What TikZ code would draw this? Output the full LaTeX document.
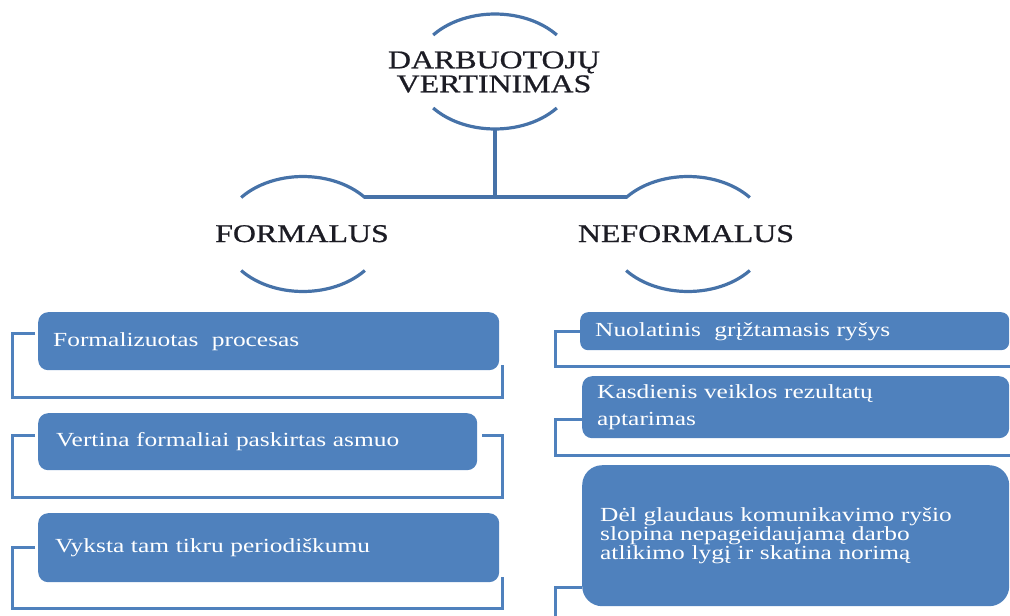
\documentclass[tikz,border=0pt]{standalone}
\usepackage{fontspec}
\setmainfont{Liberation Serif}[FakeStretch=1.27]
\newfontfamily\headfont{Liberation Serif}[FakeStretch=1.25, FakeBold=0.8]
\newcommand\widewords{\spaceskip=0.4em plus 0.1em\relax}
\usetikzlibrary{calc}
\definecolor{boxblue}{HTML}{4F81BD}
\definecolor{arcblue}{HTML}{4672A8}
\definecolor{headtext}{HTML}{1C1C24}
\tikzset{
  heading/.style={font=\headfont\fontsize{25.5}{24}\selectfont, text=headtext, inner sep=0pt, align=center},
  itembox/.style={fill=boxblue, text=white, font=\fontsize{20}{27}\selectfont\widewords, inner xsep=15pt, inner ysep=0pt, align=left, rounded corners=10pt, anchor=north west},
  bracket/.style={draw=boxblue, line width=3pt},
  arcline/.style={draw=arcblue, line width=3.2pt},
}
\begin{document}
\begin{tikzpicture}[x=1pt,y=-1pt]
\useasboundingbox (0,0) rectangle (1010,616);
\clip (0,0) rectangle (1010,616);

% ---- heading ellipse arcs
\draw[arcline] (495,71.5) ++(219.4:80 and 57.5) arc[start angle=219.4,end angle=320.6,x radius=80,y radius=57.5];
\draw[arcline] (495,71.5) ++(39.4:80 and 57.5) arc[start angle=39.4,end angle=140.6,x radius=80,y radius=57.5];
\draw[arcline] (303,234) ++(219.4:80 and 57.5) arc[start angle=219.4,end angle=320.6,x radius=80,y radius=57.5];
\draw[arcline] (303,234) ++(39.4:80 and 57.5) arc[start angle=39.4,end angle=140.6,x radius=80,y radius=57.5];
\draw[arcline] (688,234) ++(219.4:80 and 57.5) arc[start angle=219.4,end angle=320.6,x radius=80,y radius=57.5];
\draw[arcline] (688,234) ++(39.4:80 and 57.5) arc[start angle=39.4,end angle=140.6,x radius=80,y radius=57.5];

% ---- headings
\node[heading] (top) at (494,72) {DARBUOTOJŲ\\VERTINIMAS};
\node[heading, anchor=base] (formal) at (302,242) {FORMALUS};
\node[heading, anchor=base] (neformal) at (686,242) {NEFORMALUS};

% ---- tree connectors
\coordinate (topbot) at (495,129);
\coordinate (junction) at (495,197);
\coordinate (fend) at (364,197);
\coordinate (nend) at (627,197);
\draw[arcline] (topbot) -- (junction);
\draw[arcline] (fend) -- (nend);

% ---- brackets
\draw[bracket] (35,333) -- (12,333) -- (12,397) -- (502,397) -- (502,365);
\draw[bracket] (35,435) -- (12,435) -- (12,497) -- (502,497) -- (502,435) -- (482,435);
\draw[bracket] (35,547) -- (12,547) -- (12,608) -- (502,608) -- (502,577);
\draw[bracket] (580,331) -- (555,331) -- (555,366) -- (1015,366);
\draw[bracket] (582,419) -- (555,419) -- (555,455) -- (1015,455);
\draw[bracket] (582,587) -- (555,587) -- (555,625);

% ---- boxes
\node[itembox, text width=431pt, minimum height=58pt] (l1) at (38,312) {Formalizuotas\ \ procesas};
\node[itembox, minimum height=57pt, inner xsep=18pt, text width=403pt] (l2) at (38,413) {Vertina formaliai paskirtas asmuo};
\node[itembox, minimum height=69pt, inner xsep=17pt, text width=427pt] (l3) at (38,513) {Vyksta tam tikru periodiškumu};
\node[itembox, text width=399pt, minimum height=38pt, rounded corners=8pt] (r1) at (580,312) {Nuolatinis\ \ grįžtamasis ryšys};
\node[itembox, text width=397pt, minimum height=62pt] (r2) at (582,376) {Kasdienis veiklos rezultatų\\aptarimas};
\node[itembox, text width=391pt, minimum height=141pt, rounded corners=20pt, font=\fontsize{20}{19}\selectfont\widewords, inner xsep=18pt] (r3) at (582,465) {Dėl glaudaus komunikavimo ryšio\\slopina nepageidaujamą darbo\\atlikimo lygį ir skatina norimą};
\end{tikzpicture}
\end{document}
